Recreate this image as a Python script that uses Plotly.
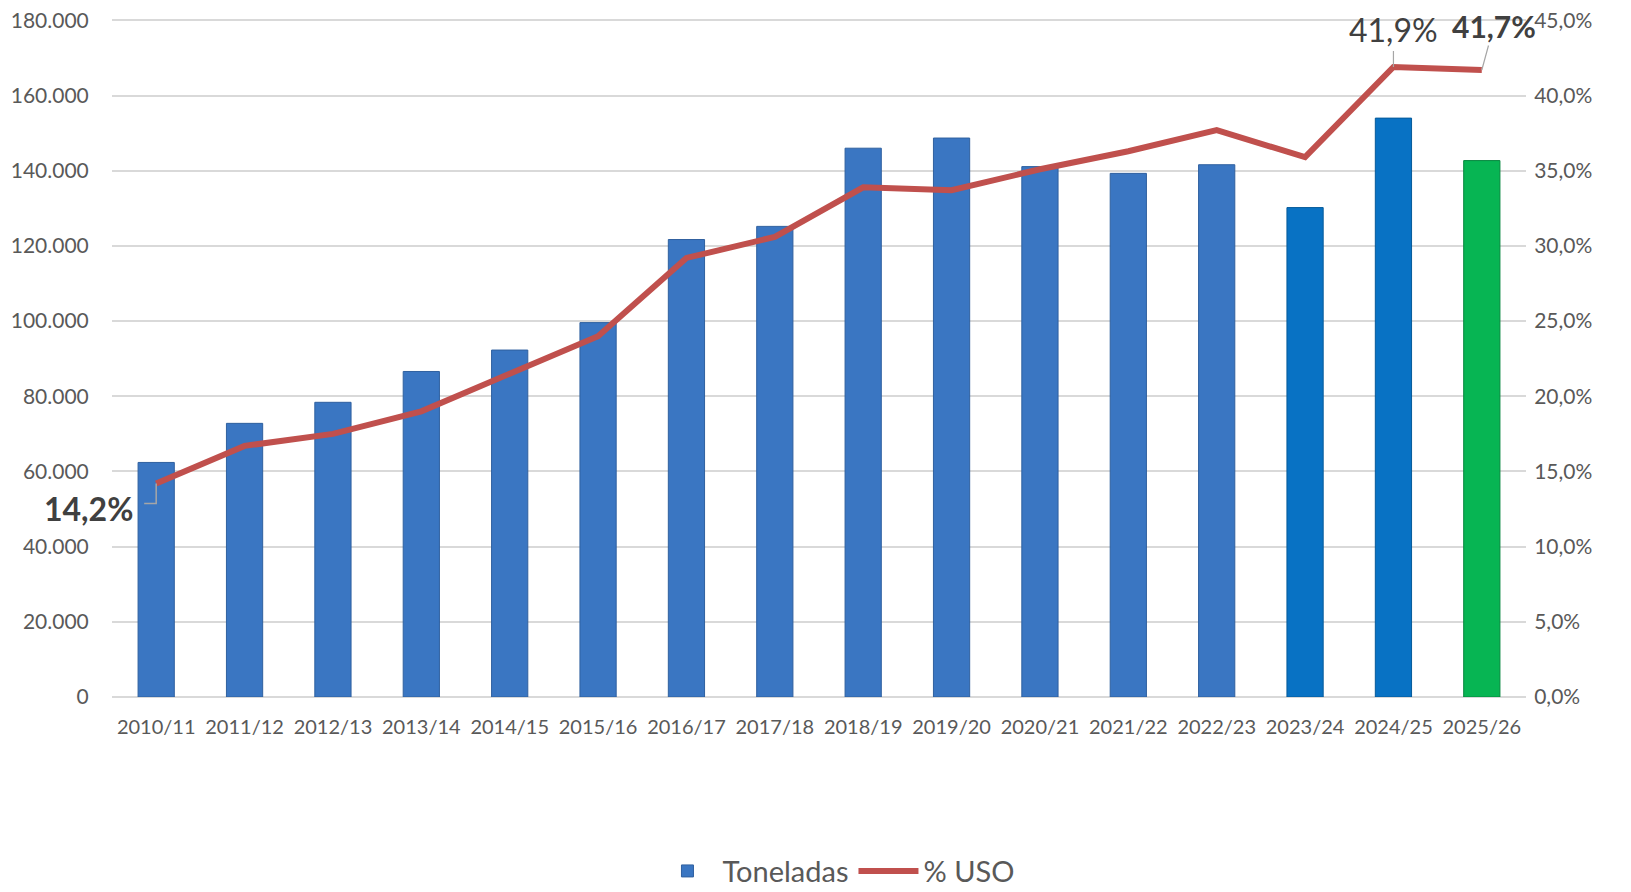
import plotly.graph_objects as go

categories = ["2010/11", "2011/12", "2012/13", "2013/14", "2014/15", "2015/16", "2016/17", "2017/18",
              "2018/19", "2019/20", "2020/21", "2021/22", "2022/23", "2023/24", "2024/25", "2025/26"]
toneladas = [62400, 72800, 78400, 86600, 92300, 99600, 121700, 125200,
             146000, 148700, 141100, 139300, 141600, 130200, 154000, 142700]
pct_uso = [14.2, 16.7, 17.5, 19.0, 21.5, 24.0, 29.2, 30.6,
           33.9, 33.7, 35.1, 36.3, 37.7, 35.9, 41.9, 41.7]
left_ticks = [0, 20000, 40000, 60000, 80000, 100000, 120000, 140000, 160000, 180000]
right_ticks = [0, 5, 10, 15, 20, 25, 30, 35, 40, 45]
bar_colors = ["#3a76c2"] * 13 + ["#0872c4", "#0872c4", "#07b553"]
line_colors = ["#2f609f"] * 13 + ["#055a9a", "#055a9a", "#06873e"]

FONT = "Lato"
GREY = "#595959"
DARK = "#404040"


def fmt_pct(v):
    return f"{v:.1f}".replace(".", ",") + "%"


def fmt_thousands(v):
    return f"{v:,d}".replace(",", ".")


# small headroom so that the top gridline is drawn inside the plot area
HEAD = 1.005

fig = go.Figure()
fig.add_trace(go.Bar(
    x=categories, y=toneladas, name="Toneladas", width=0.41,
    marker=dict(color=bar_colors, line=dict(color=line_colors, width=1)),
    yaxis="y",
))
fig.add_trace(go.Scatter(
    x=categories, y=pct_uso, name="% USO", mode="lines",
    line=dict(color="#c0504d", width=6), yaxis="y2",
))

plot_h = 677 * HEAD
fig.update_layout(
    template="none",
    width=1623, height=884,
    margin=dict(l=104, r=105, t=884 - 195 - plot_h, b=195, autoexpand=False),
    paper_bgcolor="white", plot_bgcolor="white",
    font=dict(family=FONT, color=GREY, size=21),
    showlegend=True,
    legend=dict(orientation="h", x=0.512, xanchor="center", y=-0.256, yanchor="middle",
                font=dict(size=29, color=GREY), itemwidth=60, traceorder="normal",
                bgcolor="rgba(0,0,0,0)"),
    xaxis=dict(type="category", range=[-0.5, 15.5], showgrid=False, showline=False, zeroline=False,
               automargin=False, tickangle=0,
               ticks="outside", ticklen=12, tickcolor="rgba(0,0,0,0)",
               tickfont=dict(size=20, color=GREY)),
    yaxis=dict(range=[0, left_ticks[-1] * HEAD], tickmode="array", tickvals=left_ticks,
               ticktext=[fmt_thousands(v) for v in left_ticks],
               automargin=False, ticklabeloverflow="allow",
               showgrid=True, gridcolor="#d9d9d9", gridwidth=2, showline=False,
               zeroline=True, zerolinecolor="#d9d9d9", zerolinewidth=2,
               ticks="outside", ticklen=18, tickcolor="rgba(0,0,0,0)",
               tickfont=dict(size=21, color=GREY)),
    yaxis2=dict(range=[0, right_ticks[-1] * HEAD], tickmode="array", tickvals=right_ticks,
                ticktext=[fmt_pct(v) for v in right_ticks],
                automargin=False, ticklabeloverflow="allow",
                overlaying="y", side="right", showgrid=False, zeroline=False, showline=False,
                ticks="outside", ticklen=3, tickcolor="rgba(0,0,0,0)",
                tickfont=dict(size=21, color=GREY)),
    bargap=0.59,
)

# first point label (bold, elbow leader)
fig.add_annotation(x=categories[0], y=pct_uso[0], xref="x", yref="y2",
                   text="<b>" + fmt_pct(pct_uso[0]) + "</b>", showarrow=False,
                   xshift=-68, yshift=-25, font=dict(size=32, color=DARK, family=FONT))
fig.add_shape(type="path", xref="x", yref="y2", xsizemode="pixel", ysizemode="pixel",
              xanchor=categories[0], yanchor=pct_uso[0],
              path="M0,0 L0,-20 L-12,-20", line=dict(color="#a6a6a6", width=1.5))
# 2024/25 label
fig.add_annotation(x=categories[14], y=pct_uso[14], xref="x", yref="y2",
                   text=fmt_pct(pct_uso[14]), showarrow=True, arrowhead=0, arrowwidth=1.2,
                   arrowcolor="#a6a6a6", ax=0, ay=-37,
                   font=dict(size=32, color=DARK, family=FONT))
# 2025/26 label
fig.add_annotation(x=categories[15], y=pct_uso[15], xref="x", yref="y2",
                   text="<b>" + fmt_pct(pct_uso[15]) + "</b>", showarrow=True, arrowhead=0,
                   arrowwidth=1.2, arrowcolor="#a6a6a6", ax=12, ay=-44,
                   font=dict(size=30, color=DARK, family=FONT))

fig.write_html("out.html")
